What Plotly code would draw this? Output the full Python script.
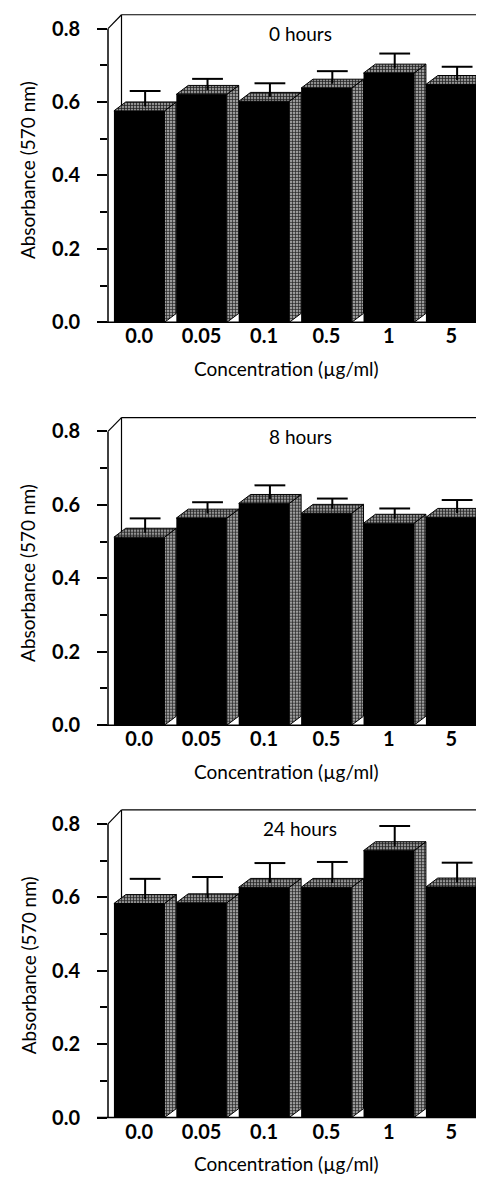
import plotly.graph_objects as go

# ---------------- data ----------------
concentrations = ["0.0", "0.05", "0.1", "0.5", "1", "5"]
panel_titles = ["0 hours", "8 hours", "24 hours"]
abs_0h = [0.576, 0.621, 0.602, 0.638, 0.679, 0.648]
err_0h = [0.042, 0.030, 0.037, 0.034, 0.041, 0.036]
abs_8h = [0.512, 0.564, 0.604, 0.577, 0.550, 0.566]
err_8h = [0.039, 0.031, 0.037, 0.028, 0.028, 0.035]
abs_24h = [0.583, 0.585, 0.627, 0.627, 0.727, 0.628]
err_24h = [0.055, 0.058, 0.054, 0.057, 0.055, 0.054]
y_tick_vals = [0.0, 0.2, 0.4, 0.6, 0.8]
y_tick_text = ["0.0", "0.2", "0.4", "0.6", "0.8"]
y_minor_vals = [0.1, 0.3, 0.5, 0.7]
y_title = "Absorbance (570 nm)"
x_title = "Concentration (µg/ml)"

panels = [(panel_titles[0], abs_0h, err_0h),
          (panel_titles[1], abs_8h, err_8h),
          (panel_titles[2], abs_24h, err_24h)]

# ---------------- layout constants ----------------
W, H = 484, 1177
ML = 100
X_RANGE = [-0.5, 5.654]
Y_TOP = 0.84
Y_RANGE = [0, Y_TOP]
PX_PER_UNIT = 370.6
PX_PER_CAT = (W - ML) / (X_RANGE[1] - X_RANGE[0])
zero_px = [317.3, 723.9, 1120.0]

BAR_W = 0.81
DX = 0.19
DY = 9 / PX_PER_UNIT
WALL_DX = 13.5 / PX_PER_CAT
WALL_DY = 14 / PX_PER_UNIT
SIDE_PATTERN = dict(shape="+", fgcolor="#202020", bgcolor="#9c9c9c", size=3, solidity=0.4, fillmode="replace")
TOP_PATTERN = dict(shape="+", fgcolor="#202020", bgcolor="#929292", size=3, solidity=0.45, fillmode="replace")
FONT = "Lato"
TICK_FONT = dict(family=FONT, size=20, color="black", weight="bold")
TEXT_FONT = dict(family=FONT, size=19, color="black")

fig = go.Figure()
shapes = []
annotations = []
layout_axes = {}

for k, (title, vals, errs) in enumerate(panels):
    sfx = "" if k == 0 else str(k + 1)
    xa, ya = "x" + sfx, "y" + sfx
    top_px = zero_px[k] - Y_TOP * PX_PER_UNIT
    dom = [1 - zero_px[k] / H, 1 - top_px / H]

    def to_paper(x, y, dom=dom):
        px = (x - X_RANGE[0]) / (X_RANGE[1] - X_RANGE[0])
        py = dom[0] + (y - Y_RANGE[0]) / (Y_RANGE[1] - Y_RANGE[0]) * (dom[1] - dom[0])
        return px, py

    idx = list(range(len(concentrations)))

    # front faces
    fig.add_trace(go.Bar(x=idx, y=vals, width=BAR_W, marker=dict(color="black", line=dict(width=0)),
                         xaxis=xa, yaxis=ya, showlegend=False, hoverinfo="skip"))

    # side and top faces
    sx, sy = [], []
    tx, ty = [], []
    for i, v in zip(idx, vals):
        xr = i + BAR_W / 2
        xl = i - BAR_W / 2
        sx += [xr, xr + DX, xr + DX, xr, xr, None]
        sy += [0, DY, v + DY, v, 0, None]
        tx += [xl, xl + DX, xr + DX, xr, xl, None]
        ty += [v, v + DY, v + DY, v, v, None]
    for px_, py_, pat in ((sx, sy, SIDE_PATTERN), (tx, ty, TOP_PATTERN)):
        fig.add_trace(go.Scatter(x=px_, y=py_, mode="lines", fill="toself", fillcolor="#8a8a8a",
                                 fillpattern=pat,
                                 line=dict(color="black", width=1), xaxis=xa, yaxis=ya,
                                 showlegend=False, hoverinfo="skip"))

    # error bars: stem from centre of top face, cap at the top
    base_x = [i + DX / 2 for i in idx]
    base_y = [v + DY / 2 for v in vals]
    fig.add_trace(go.Scatter(x=base_x, y=base_y, mode="markers", marker=dict(size=1, opacity=0),
                             error_y=dict(type="data", array=errs, arrayminus=[0] * len(errs),
                                          symmetric=False, color="black", thickness=2, width=0),
                             xaxis=xa, yaxis=ya, showlegend=False, hoverinfo="skip"))
    fig.add_trace(go.Scatter(x=base_x, y=[b + e for b, e in zip(base_y, errs)], mode="markers",
                             marker=dict(symbol="line-ew", size=22, line=dict(color="black", width=2)),
                             xaxis=xa, yaxis=ya, showlegend=False, hoverinfo="skip", cliponaxis=False))

    layout_axes["xaxis" + sfx] = dict(domain=[0, 1], range=X_RANGE, anchor=ya,
                                      tickmode="array", tickvals=idx, ticktext=concentrations,
                                      ticks="", showline=False, showgrid=False, zeroline=False,
                                      tickfont=TICK_FONT, fixedrange=True)
    layout_axes["yaxis" + sfx] = dict(domain=dom, range=Y_RANGE, anchor=xa,
                                      tickmode="array", tickvals=y_tick_vals, ticktext=y_tick_text,
                                      ticks="outside", ticklen=10, tickwidth=1.5, tickcolor="black",
                                      ticklabelstandoff=13,
                                      minor=dict(tickmode="array", tickvals=y_minor_vals, ticks="outside",
                                                 ticklen=7, tickwidth=1.5, tickcolor="black"),
                                      showline=False, showgrid=False, zeroline=False,
                                      tickfont=TICK_FONT, fixedrange=True)

    # frame: front axis line, back wall, floor
    def seg(p0, p1, layer="above", width=1.5):
        x0, y0 = to_paper(*p0)
        x1, y1 = to_paper(*p1)
        shapes.append(dict(type="line", xref="paper", yref="paper", x0=x0, y0=y0, x1=x1, y1=y1,
                           line=dict(color="black", width=width), layer=layer))

    x_left = X_RANGE[0]
    x_floor_end = 5 + BAR_W / 2
    seg((x_left, 0), (x_left, 0.8))
    seg((x_left, 0.8), (x_left + WALL_DX, 0.8 + WALL_DY), width=1.2)
    seg((x_left + WALL_DX, 0.8 + WALL_DY), (x_floor_end + WALL_DX, 0.8 + WALL_DY), layer="below", width=1.2)
    seg((x_left + WALL_DX, WALL_DY), (x_left + WALL_DX, 0.8 + WALL_DY), layer="below", width=1.2)
    seg((x_floor_end + WALL_DX, WALL_DY), (x_floor_end + WALL_DX, 0.8 + WALL_DY), layer="below", width=1.2)
    seg((x_left - 11 / PX_PER_CAT, 0), (x_floor_end, 0))
    seg((x_floor_end, 0), (x_floor_end + WALL_DX, WALL_DY), width=1.2)

    # texts
    annotations.append(dict(text=title, xref=xa + " domain", yref=ya + " domain", x=0.5, y=0.937,
                            xanchor="center", yanchor="middle", showarrow=False, font=TEXT_FONT))
    annotations.append(dict(text=y_title, xref=xa + " domain", yref=ya + " domain", x=-0.208, y=0.494,
                            xanchor="center", yanchor="middle", textangle=-90, showarrow=False,
                            font=TEXT_FONT))
    annotations.append(dict(text=x_title, xref=xa + " domain", yref=ya + " domain", x=0.466, y=-0.150,
                            xanchor="center", yanchor="middle", showarrow=False, font=TEXT_FONT))

fig.update_layout(width=W, height=H, margin=dict(l=ML, r=0, t=0, b=0),
                  paper_bgcolor="white", plot_bgcolor="rgba(0,0,0,0)",
                  shapes=shapes, annotations=annotations, showlegend=False,
                  barmode="overlay", **layout_axes)

fig.write_html("out.html", config={"displayModeBar": False})
